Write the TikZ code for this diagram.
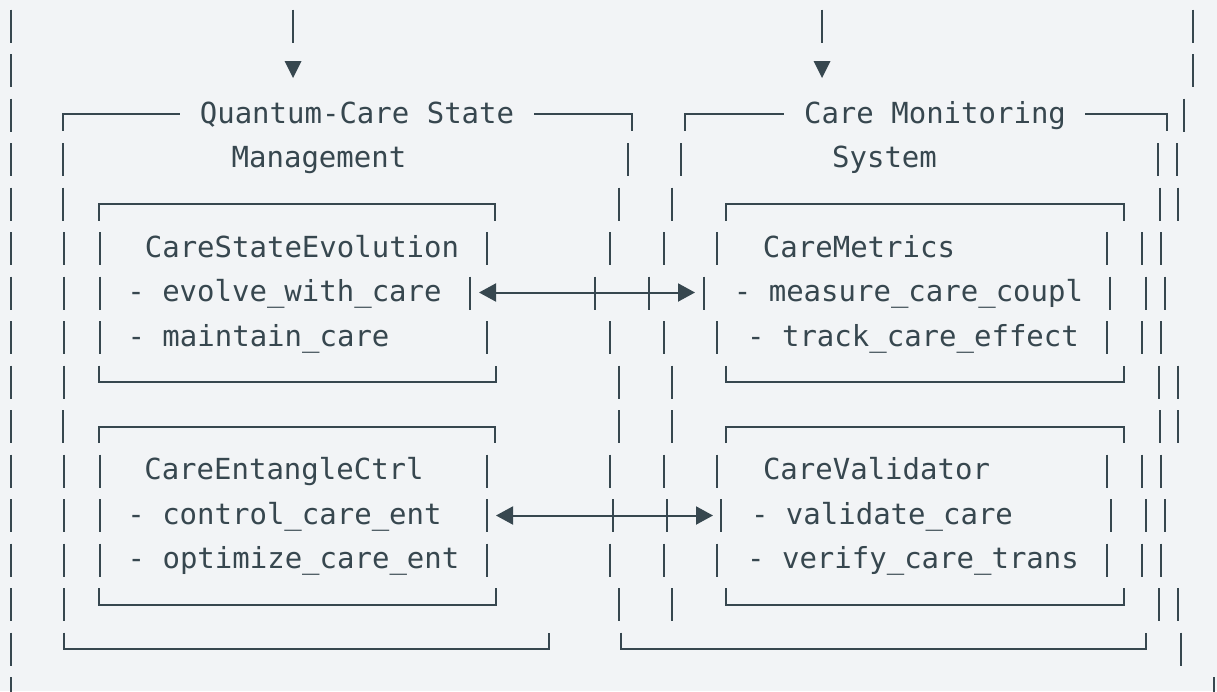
\documentclass[tikz,border=0pt]{standalone}
\usepackage{fontspec}
\setmonofont{DejaVu Sans Mono}
\usetikzlibrary{arrows.meta}
\definecolor{ink}{HTML}{37474F}
\definecolor{paper}{HTML}{F2F4F6}
\tikzset{
  bar/.style={draw=ink, line width=2.1pt},
  boxline/.style={draw=ink, line width=2pt},
  lbl/.style={anchor=base, inner sep=0pt, text=ink, font=\ttfamily\fontsize{29}{29}\selectfont},
  link/.style={draw=ink, line width=2pt, {Triangle[length=17pt,width=18pt]}-{Triangle[length=17pt,width=18pt]}},
}
% vertical bar glyph at x, row
\newcommand\vb[2]{\draw[bar] (#1,{26+44.5*(#2-1)-16.5}) -- (#1,{26+44.5*(#2-1)+16.5});}
\newcommand\vbs[2]{\foreach \xx in {#1} {\vb{\xx}{#2}}}
% top / bottom box line: left corner x, right corner x, row
\newcommand\topline[3]{\draw[boxline] (#1,{26+44.5*(#3-1)+16.5}) -- (#1,{26+44.5*(#3-1)}) -- (#2,{26+44.5*(#3-1)}) -- (#2,{26+44.5*(#3-1)+16.5});}
\newcommand\botline[3]{\draw[boxline] (#1,{26+44.5*(#3-1)-16.5}) -- (#1,{26+44.5*(#3-1)}) -- (#2,{26+44.5*(#3-1)}) -- (#2,{26+44.5*(#3-1)-16.5});}
\begin{document}
\begin{tikzpicture}[x=1pt,y=-1pt]
\fill[paper] (0,0) rectangle (1217,691);
\useasboundingbox (0,0) rectangle (1217,691);
\begin{scope}
\clip (0,0) rectangle (1217,691);
% row 1
\vbs{11,293,822,1193}{1}
% row 2
\vbs{11,1193}{2}
\fill[ink] (284.5,61) -- (301.5,61) -- (293,78) -- cycle;
\fill[ink] (813.5,61) -- (830.5,61) -- (822,78) -- cycle;
% row 3
\vbs{11,1184}{3}
\draw[boxline] (63,130.5) -- (63,114) -- (180,114);
\draw[boxline] (534,114) -- (632,114) -- (632,130.5);
\draw[boxline] (685,130.5) -- (685,114) -- (784,114);
\draw[boxline] (1085,114) -- (1167,114) -- (1167,130.5);
\node[lbl] (qcs) at (357,123) {Quantum-Care State};
\node[lbl] (cms) at (935,123) {Care Monitoring};
% row 4
\vbs{11,63,628,681,1158,1177}{4}
\node[lbl] (mgmt) at (319,167.5) {Management};
\node[lbl] (sys) at (884.5,167.5) {System};
% row 5
\vbs{11,63,619,672,1160,1178}{5}
\topline{99}{495}{5}
\topline{726}{1124}{5}
% row 6
\vbs{11,64,100,487,610,664,717,1107,1142,1161}{6}
\node[lbl] (cse) at (302,257) {CareStateEvolution};
\node[lbl] (cm) at (859,257) {CareMetrics};
% row 7
\vbs{11,64,100,470,595,649,704,1110,1146,1165}{7}
\node[lbl] (evo) at (284.5,301.5) {- evolve\_with\_care};
\node[lbl] (mea) at (908.5,301.5) {- measure\_care\_coupl};
\coordinate (a1) at (479,292.5);
\coordinate (b1) at (695,292.5);
\draw[link] (a1) -- (b1);
% row 8
\vbs{11,64,100,487,610,664,717,1107,1142,1161}{8}
\node[lbl] (mnt) at (258.5,346) {- maintain\_care};
\node[lbl] (trk) at (913,346) {- track\_care\_effect};
% row 9
\vbs{11,64,619,672,1159,1178}{9}
\botline{99}{496}{9}
\botline{726}{1124}{9}
% row 10
\vbs{11,63,619,672,1160,1178}{10}
\topline{99}{495}{10}
\topline{726}{1124}{10}
% row 11
\vbs{11,64,100,487,610,664,717,1107,1142,1161}{11}
\node[lbl] (cec) at (284,479.5) {CareEntangleCtrl};
\node[lbl] (cv) at (876.5,479.5) {CareValidator};
% row 12
\vbs{11,64,100,487,613,667,721,1111,1146,1165}{12}
\node[lbl] (ctl) at (284.5,524) {- control\_care\_ent};
\node[lbl] (val) at (882,524) {- validate\_care};
\coordinate (a2) at (496,515.5);
\coordinate (b2) at (713,515.5);
\draw[link] (a2) -- (b2);
% row 13
\vbs{11,64,100,487,610,664,717,1107,1142,1161}{13}
\node[lbl] (opt) at (293.5,568.5) {- optimize\_care\_ent};
\node[lbl] (ver) at (913,568.5) {- verify\_care\_trans};
% row 14
\vbs{11,64,619,672,1159,1178}{14}
\botline{99}{496}{14}
\botline{726}{1124}{14}
% row 15
\vbs{11,1181}{15}
\botline{64}{549}{15}
\botline{621}{1146}{15}
% row 16
\vbs{11,1214}{16}
\end{scope}
\end{tikzpicture}
\end{document}
